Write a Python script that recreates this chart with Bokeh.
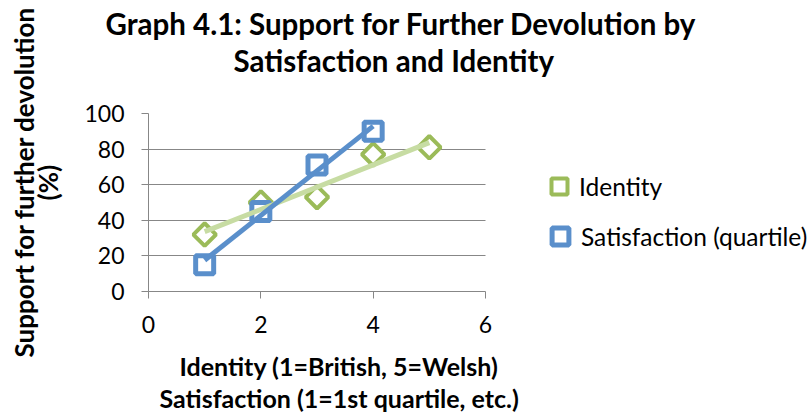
import numpy as np
from bokeh.plotting import figure
from bokeh.models import (Range1d, FixedTicker, Legend, LegendItem, Title,
                          ColumnDataSource)
from bokeh.embed import file_html
from bokeh.resources import INLINE

# Support for further devolution (%) by group
identity_x = [1, 2, 3, 4, 5]
identity_y = [32, 50, 53, 77, 81]
satisfaction_x = [1, 2, 3, 4]
satisfaction_y = [15, 45, 71, 90]

x_ticks = [0, 2, 4, 6]
y_ticks = [0, 20, 40, 60, 80, 100]

FONT = "Lato"
BLUE = "#5A8FCB"
GREEN = "#9BBB59"
GREEN_TREND = "#C7DCA3"
GRID = "#878787"

# the plot area runs to the right edge so the legend can sit inside it;
# the axis and grid lines are bounded to the 0..6 span
W, H = 810, 415
LEFT, TOP, BOTTOM = 148, 113, 124
AXIS_PX = 337                      # pixels spanned by x = 0..6
x_end = 6 * (W - LEFT) / AXIS_PX

p = figure(width=W, height=H, output_backend="svg", toolbar_location=None,
           x_range=Range1d(0, x_end), y_range=Range1d(0, 100),
           min_border_left=LEFT, min_border_right=0,
           min_border_top=TOP, min_border_bottom=BOTTOM,
           title=None)
p.outline_line_color = None
p.background_fill_color = "white"
p.border_fill_color = "white"

for ax in (p.xaxis[0], p.yaxis[0]):
    ax.axis_line_color = GRID
    ax.major_tick_line_color = GRID
    ax.major_tick_out = 7
    ax.major_tick_in = 0
    ax.minor_tick_line_color = None
    ax.major_label_text_font = FONT
    ax.major_label_text_font_size = "23px"
    ax.major_label_text_color = "black"
p.xaxis.ticker = FixedTicker(ticks=x_ticks)
p.xaxis.bounds = (0, 6)
p.yaxis.ticker = FixedTicker(ticks=y_ticks)
p.xaxis.major_label_standoff = 17
p.yaxis.major_label_standoff = 17

p.xgrid.grid_line_color = None
p.ygrid.ticker = FixedTicker(ticks=y_ticks)
p.ygrid.cross_bounds = (0, 6)
p.ygrid.grid_line_color = GRID
p.ygrid.grid_line_width = 1

# linear trend lines fitted to each series
def trend(xs, ys):
    k, b = np.polyfit(xs, ys, 1)
    x0, x1 = min(xs), max(xs)
    return [x0, x1], [k * x0 + b, k * x1 + b]

src_id = ColumnDataSource(dict(x=identity_x, y=identity_y))
src_sat = ColumnDataSource(dict(x=satisfaction_x, y=satisfaction_y))

r_id = p.scatter("x", "y", source=src_id, marker="square", angle=np.pi / 4,
                 size=16, fill_color="white", line_color=GREEN, line_width=4)
r_sat = p.scatter("x", "y", source=src_sat, marker="square", size=18,
                  fill_color="white", line_color=BLUE, line_width=5)

tx, ty = trend(identity_x, identity_y)
p.line(tx, ty, line_color=GREEN_TREND, line_width=5)
tx, ty = trend(satisfaction_x, satisfaction_y)
p.line(tx, ty, line_color=BLUE, line_width=5)

# legend: one entry per box so each keeps its own marker size
def legend_entry(label, renderer, box, loc):
    return Legend(items=[LegendItem(label=label, renderers=[renderer])],
                  location=loc, orientation="vertical",
                  label_text_font=FONT, label_text_font_size="24.5px",
                  label_text_color="black", glyph_width=box, glyph_height=box,
                  label_height=box, label_standoff=0,
                  padding=0, margin=0, border_line_color=None,
                  background_fill_alpha=0)

p.add_layout(legend_entry("Identity", r_id, 40, (391, 85)))
p.add_layout(legend_entry("Satisfaction (quartile)", r_sat, 42, (391, 34)))

def title(text, size, offset=0, standoff=0):
    return Title(text=text, align="left", offset=offset, standoff=standoff,
                 text_font=FONT, text_font_size=size,
                 text_font_style="bold", text_color="black")

def gap(px):
    # blank panel entry that opens space between the frame and a title
    return Title(text=" ", standoff=px, text_font_size="1px")

# x-axis title, two lines (first added sits nearest the axis)
p.add_layout(gap(10), "below")
p.add_layout(title("Identity (1=British, 5=Welsh)", "25px", offset=31), "below")
p.add_layout(title("Satisfaction (1=1st quartile, etc.)", "25px", offset=11), "below")

# y-axis title, two lines
p.add_layout(gap(15), "left")
p.add_layout(title("(%)", "26px", offset=91), "left")
p.add_layout(title("Support for further devolution", "26px", offset=-66,
                   standoff=-20), "left")

# chart title
p.add_layout(gap(33), "above")
p.add_layout(title("Satisfaction and Identity", "29.5px", offset=85), "above")
p.add_layout(title("Graph 4.1: Support for Further Devolution by", "29.5px",
                   offset=-43), "above")

open("out.html", "w").write(file_html(p, INLINE))
